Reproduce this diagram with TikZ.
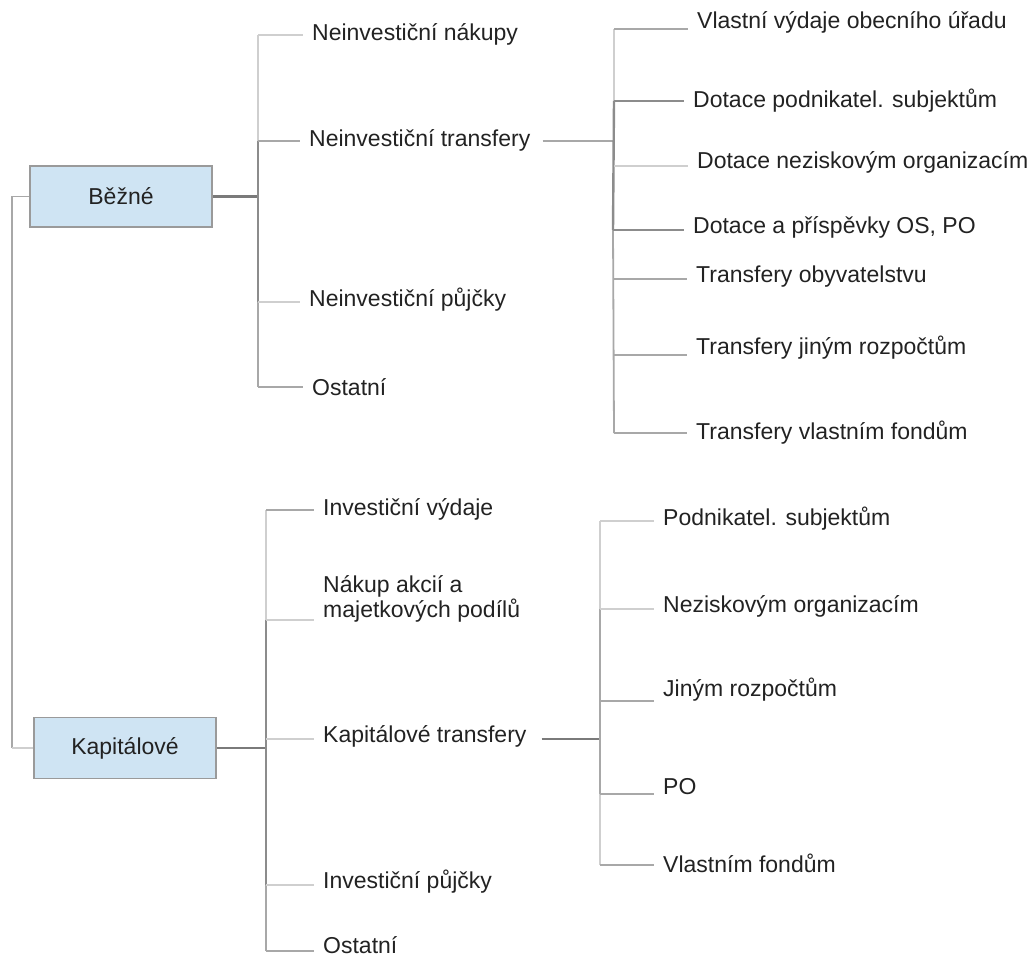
\documentclass[tikz,border=0pt]{standalone}
\usepackage{fontspec}
\setmainfont{Liberation Sans}
\definecolor{txt}{HTML}{222222}
\definecolor{lnA}{HTML}{CFCFCF}
\definecolor{lnB}{HTML}{A8A8A8}
\definecolor{lnC}{HTML}{8C8C8C}
\definecolor{lnD}{HTML}{7A7A7A}
\definecolor{boxfill}{HTML}{CFE4F3}
\definecolor{boxline}{HTML}{9A9A9A}
\begin{document}
\begin{tikzpicture}[x=1pt,y=-1pt,
  every node/.style={font=\fontsize{23}{25}\selectfont, text=txt},
  leaf/.style={anchor=west, inner xsep=9pt, inner ysep=2pt},
  topbox/.style={draw=boxline, line width=1.5pt, fill=boxfill, minimum width=182pt, minimum height=61pt, inner sep=0pt},
  light/.style={draw=lnA, line width=1.8pt},
  mid/.style={draw=lnB, line width=1.8pt},
  dark/.style={draw=lnC, line width=2.4pt},
  darker/.style={draw=lnD, line width=2.6pt},
]
\useasboundingbox (0,0) rectangle (1030,961);

% main boxes
\node[topbox] (bezne) at (121,196.5) {Běžné};
\node[topbox] (kap) at (125,748) {Kapitálové};

% left connector between the two boxes
\coordinate (lc1) at (12,196.5);
\coordinate (lc2) at (12,748);
\draw[mid] (bezne.west) -- (lc1) -- (lc2);
\draw[light] (lc2) -- (kap.west);

% ---------- Běžné subtree ----------
\node[leaf] (nakupy) at (303,34) {Neinvestiční nákupy};
\node[leaf] (ntr) at (300,140) {Neinvestiční transfery};
\node[leaf] (npuj) at (300,300) {Neinvestiční půjčky};
\node[leaf] (ost1) at (303,387) {Ostatní};

\coordinate (a0) at (258,196.5);
\coordinate (a1) at (258,35);
\coordinate (a2) at (258,141);
\coordinate (a3) at (258,302);
\coordinate (a4) at (258,387);
\draw[darker] (bezne.east) -- (a0);
\draw[light] (a1) -- (a2);
\draw[dark] (a2) -- (a3);
\draw[mid] (a3) -- (a4);
\draw[light] (a1) -- (a1 -| nakupy.west);
\draw[mid] (a2) -- (a2 -| ntr.west);
\draw[light] (a3) -- (a3 -| npuj.west);
\draw[mid] (a4) -- (a4 -| ost1.west);

% ---------- Neinvestiční transfery subtree ----------
\node[leaf] (vlv) at (688,22) {Vlastní výdaje obecního úřadu};
\node[leaf] (dpod) at (684,101) {Dotace podnikatel. subjektům};
\node[leaf] (dnez) at (688,162) {Dotace neziskovým organizacím};
\node[leaf] (dpri) at (684,227) {Dotace a příspěvky OS, PO};
\node[leaf] (tobv) at (687,277) {Transfery obyvatelstvu};
\node[leaf] (tjin) at (687,348) {Transfery jiným rozpočtům};
\node[leaf] (tvlf) at (687,433) {Transfery vlastním fondům};

\coordinate (b0) at (613,141);
\coordinate (b1) at (614,29);
\coordinate (b2) at (614,101);
\coordinate (b3) at (614,166);
\coordinate (b4) at (613,230);
\coordinate (b5) at (614,279);
\coordinate (b6) at (614,355);
\coordinate (b7) at (614,433);
\coordinate (ntrR) at ([xshift=3pt]ntr.east);
\draw[mid] (ntrR |- b0) -- (b0);
\draw[light] (b1) -- (b2);
\draw[dark] (b2) -- (b4);
\draw[mid] (b4) -- (b7);
\draw[mid] (b1) -- (b1 -| vlv.west);
\draw[lnC, line width=1.8pt] (b2) -- (b2 -| dpod.west);
\draw[light] (b3) -- (b3 -| dnez.west);
\draw[lnC, line width=1.8pt] (b4) -- (b4 -| dpri.west);
\draw[mid] (b5) -- (b5 -| tobv.west);
\draw[mid] (b6) -- (b6 -| tjin.west);
\draw[mid] (b7) -- (b7 -| tvlf.west);

% ---------- Kapitálové subtree ----------
\node[leaf] (ivyd) at (314,509) {Investiční výdaje};
\node[leaf, align=left] (nakup) at (314,599) {Nákup akcií a\\majetkových podílů};
\node[leaf] (ktr) at (314,736) {Kapitálové transfery};
\node[leaf] (ipuj) at (314,882) {Investiční půjčky};
\node[leaf] (ost2) at (314,945) {Ostatní};

\coordinate (c0) at (266,748);
\coordinate (c1) at (266,510);
\coordinate (c2) at (266,620);
\coordinate (c3) at (266,739);
\coordinate (c4) at (266,885);
\coordinate (c5) at (266,951);
\draw[darker] (kap.east) -- (c0);
\draw[light] (c1) -- (c2);
\draw[dark] (c2) -- (c4);
\draw[mid] (c4) -- (c5);
\draw[mid] (c1) -- (c1 -| ivyd.west);
\draw[light] (c2) -- (c2 -| nakup.west);
\draw[light] (c3) -- (c3 -| ktr.west);
\draw[light] (c4) -- (c4 -| ipuj.west);
\draw[mid] (c5) -- (c5 -| ost2.west);

% ---------- Kapitálové transfery subtree ----------
\node[leaf] (kpod) at (654,519) {Podnikatel. subjektům};
\node[leaf] (knez) at (654,606) {Neziskovým organizacím};
\node[leaf] (kjin) at (654,690) {Jiným rozpočtům};
\node[leaf] (kpo) at (654,787) {PO};
\node[leaf] (kvlf) at (654,863) {Vlastním fondům};

\coordinate (d0) at (600,739);
\coordinate (d1) at (600,521);
\coordinate (d2) at (600,609);
\coordinate (d3) at (600,701);
\coordinate (d4) at (600,794);
\coordinate (d5) at (600,865);
\coordinate (ktrR) at ([xshift=6pt]ktr.east);
\draw[darker] (ktrR |- d0) -- (d0);
\draw[light] (d1) -- (d2);
\draw[mid, line width=2.2pt] (d2) -- (d4);
\draw[light] (d4) -- (d5);
\draw[light] (d1) -- (d1 -| kpod.west);
\draw[light] (d2) -- (d2 -| knez.west);
\draw[mid] (d3) -- (d3 -| kjin.west);
\draw[mid] (d4) -- (d4 -| kpo.west);
\draw[mid] (d5) -- (d5 -| kvlf.west);
\end{tikzpicture}
\end{document}
